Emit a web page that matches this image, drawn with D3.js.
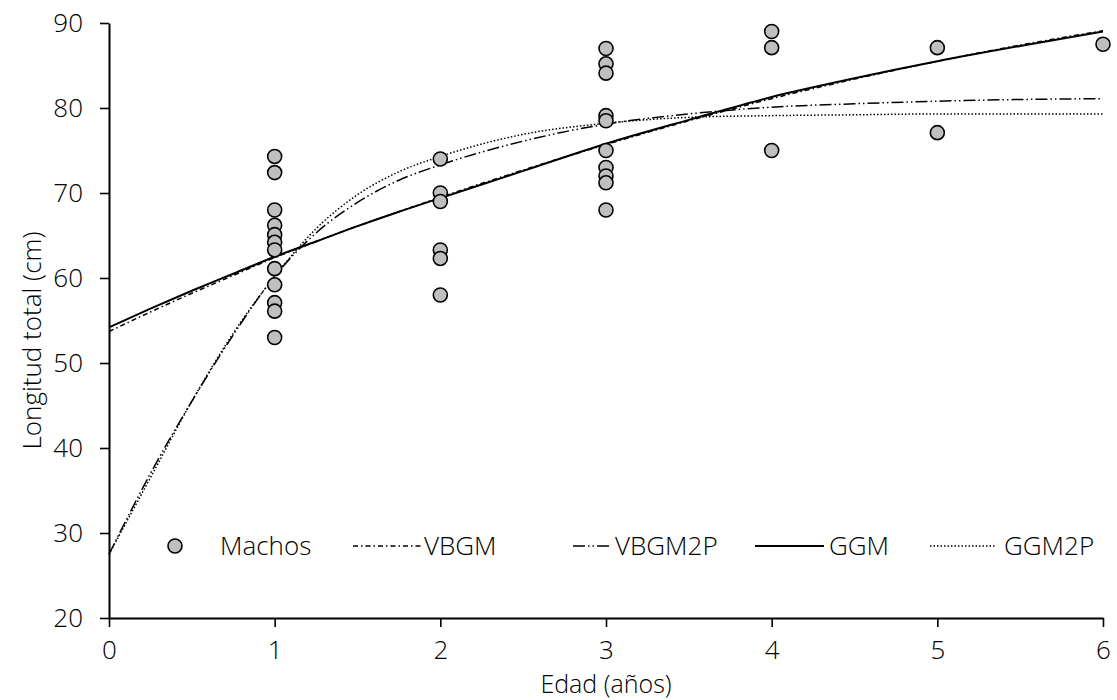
<!DOCTYPE html>
<html>
<head>
<meta charset="utf-8">
<script src="https://cdn.jsdelivr.net/npm/d3@7"></script>
<style>
  html, body { margin: 0; padding: 0; background: #fff; }
  svg text { font-family: "Open Sans", "Noto Sans", sans-serif; font-weight: 300; fill: #000; }
</style>
</head>
<body>
<svg id="chart" width="1117" height="700"></svg>
<script>
// ---- Data ----
const xTicks = [0, 1, 2, 3, 4, 5, 6];
const yTicks = [20, 30, 40, 50, 60, 70, 80, 90];

const obsAge = [1,1,1,1,1,1,1,1,1,1,1,1, 2,2,2,2,2,2, 3,3,3,3,3,3,3,3,3,3, 4,4,4, 5,5, 6];
const obsLen = [74.3,72.4,68.0,66.2,65.1,64.2,63.3,61.1,59.2,57.1,56.1,53.0,
                74.0,70.0,69.0,63.3,62.3,58.0,
                87.0,85.2,84.1,79.1,78.5,75.0,73.0,72.0,71.2,68.0,
                89.0,87.1,75.0,
                87.1,77.1,
                87.5];

const curveAge = [0, 0.25, 0.5, 0.75, 1, 1.25, 1.5, 1.75, 2, 2.5, 3, 3.5, 4, 4.5, 5, 5.5, 6];
const vbgm    = [53.7, 56.0, 58.2, 60.3, 62.4, 64.3, 66.1, 67.8, 69.5, 72.7, 75.7, 78.5, 81.1, 83.4, 85.5, 87.4, 89.1];
const vbgm2p  = [27.5, 37.0, 45.5, 53.3, 60.2, 65.3, 68.9, 71.5, 73.3, 76.1, 78.1, 79.3, 80.1, 80.5, 80.8, 81.0, 81.1];
const ggm     = [54.2, 56.4, 58.5, 60.5, 62.5, 64.3, 66.1, 67.8, 69.4, 72.6, 75.8, 78.6, 81.3, 83.5, 85.5, 87.3, 89.0];
const ggm2p   = [27.5, 36.5, 45.5, 53.5, 60.2, 65.8, 69.8, 72.5, 74.3, 76.9, 78.2, 78.9, 79.1, 79.2, 79.3, 79.3, 79.3];

const seriesNames = ["Machos", "VBGM", "VBGM2P", "GGM", "GGM2P"];

// ---- Layout ----
const svg = d3.select("#chart");
const m = { left: 109, right: 1117 - 1103, top: 23, bottom: 700 - 618 };
const W = 1117, H = 700;
const FS = "26px";

const x = d3.scaleLinear().domain([0, 6]).range([m.left, W - m.right]);
const y = d3.scaleLinear().domain([20, 90]).range([H - m.bottom, m.top]);

// Axes
const xAxis = svg.append("g")
  .attr("transform", `translate(0,${y(20)})`)
  .call(d3.axisBottom(x).tickValues(xTicks).tickFormat(d3.format("d")).tickSize(9).tickSizeOuter(0).tickPadding(14));
const yAxis = svg.append("g")
  .attr("transform", `translate(${x(0)},0)`)
  .call(d3.axisLeft(y).tickValues(yTicks).tickFormat(d3.format("d")).tickSize(9).tickSizeOuter(0).tickPadding(17));

[xAxis, yAxis].forEach(g => {
  g.selectAll("path.domain").attr("stroke", "#000").attr("stroke-width", 2);
  g.selectAll(".tick line").attr("stroke", "#000").attr("stroke-width", 1.6);
  g.selectAll(".tick text").style("font-size", FS).style("font-family", "'Open Sans', sans-serif")
    .style("font-weight", 300).attr("fill", "#000");
});

// Axis titles
svg.append("text")
  .attr("x", x(3)).attr("y", 693)
  .attr("text-anchor", "middle")
  .style("font-size", "25px")
  .text("Edad (años)");
svg.append("text")
  .attr("transform", `translate(41,${(y(20) + y(90)) / 2 + 20}) rotate(-90)`)
  .attr("text-anchor", "middle")
  .style("font-size", FS)
  .text("Longitud total (cm)");

// Curves
const styles = {
  VBGM:   { dash: "5,3,1.5,3",          width: 1.5 },
  VBGM2P: { dash: "12,3,1.5,3,1.5,3",   width: 1.5 },
  GGM:    { dash: null,                 width: 2 },
  GGM2P:  { dash: "1.5,2",              width: 1.5 }
};
const curves = [
  { name: "VBGM", values: vbgm },
  { name: "VBGM2P", values: vbgm2p },
  { name: "GGM", values: ggm },
  { name: "GGM2P", values: ggm2p }
];
const line = d3.line().x(d => x(d[0])).y(d => y(d[1])).curve(d3.curveMonotoneX);

svg.append("g").selectAll("path").data(curves).join("path")
  .attr("d", c => line(curveAge.map((a, i) => [a, c.values[i]])))
  .attr("fill", "none")
  .attr("stroke", "#000")
  .attr("stroke-width", c => styles[c.name].width)
  .attr("stroke-dasharray", c => styles[c.name].dash);

// Points
svg.append("g").selectAll("circle").data(obsAge.map((a, i) => [a, obsLen[i]])).join("circle")
  .attr("cx", d => x(d[0]))
  .attr("cy", d => y(d[1]))
  .attr("r", 7)
  .attr("fill", "#bfbfbf")
  .attr("stroke", "#000")
  .attr("stroke-width", 1.6);

// Legend
const legY = 546;
const leg = svg.append("g");
const legItems = [
  { name: "Machos", x0: 175, x1: 175, tx: 220 },
  { name: "VBGM",   x0: 353, x1: 421, tx: 424 },
  { name: "VBGM2P", x0: 573, x1: 612, tx: 615 },
  { name: "GGM",    x0: 755, x1: 824, tx: 829 },
  { name: "GGM2P",  x0: 930, x1: 996, tx: 1004 }
];
legItems.forEach(it => {
  if (it.name === "Machos") {
    leg.append("circle").attr("cx", it.x0).attr("cy", legY).attr("r", 7)
      .attr("fill", "#bfbfbf").attr("stroke", "#000").attr("stroke-width", 1.6);
  } else {
    leg.append("line").attr("x1", it.x0).attr("x2", it.x1).attr("y1", legY).attr("y2", legY)
      .attr("stroke", "#000").attr("stroke-width", styles[it.name].width)
      .attr("stroke-dasharray", styles[it.name].dash);
  }
  leg.append("text").attr("x", it.tx).attr("y", legY).attr("dy", "0.35em")
    .style("font-size", FS).text(it.name);
});
</script>
</body>
</html>
